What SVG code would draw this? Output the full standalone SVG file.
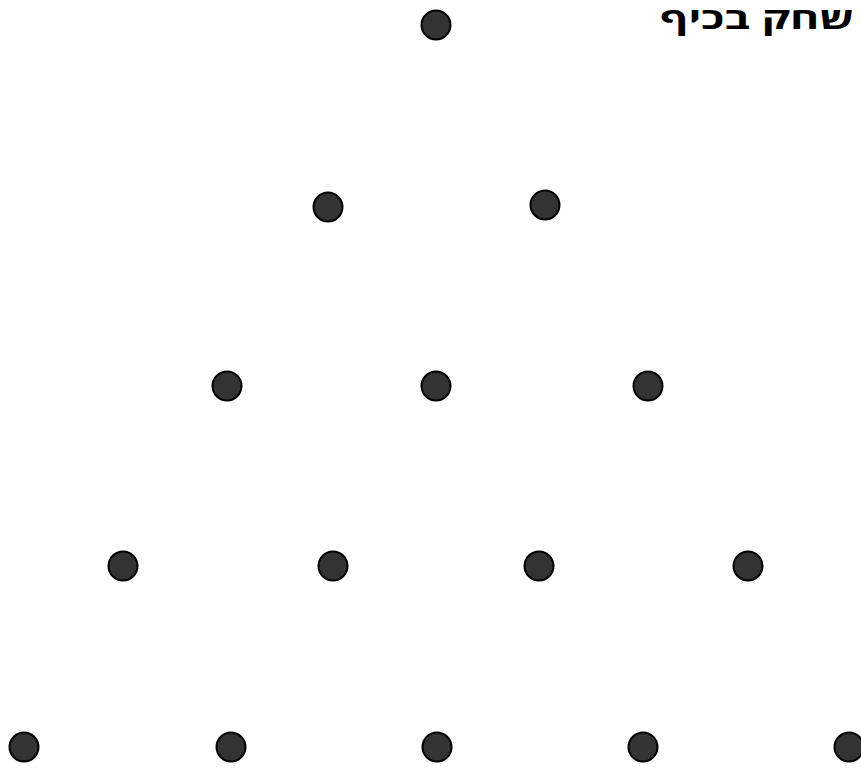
<svg xmlns="http://www.w3.org/2000/svg" width="861" height="770" viewBox="0 0 861 770">
<style>
.dot{fill:#333333;stroke:#000000;stroke-width:2}
.title{font-family:"Open Sans","Noto Sans","DejaVu Sans",sans-serif;font-weight:bold;font-size:30px;fill:#000000}
</style>
<rect width="861" height="770" fill="#ffffff"/>
<text class="title" x="660" y="29" textLength="194" lengthAdjust="spacingAndGlyphs">שחק בכיף</text>
<g id="connectors"></g>
<g id="n0"><circle class="dot" cx="436" cy="25" r="14.5"/></g>
<g id="n1"><circle class="dot" cx="328" cy="207" r="14.5"/></g>
<g id="n2"><circle class="dot" cx="545" cy="205" r="14.5"/></g>
<g id="n3"><circle class="dot" cx="227" cy="386" r="14.5"/></g>
<g id="n4"><circle class="dot" cx="436" cy="386" r="14.5"/></g>
<g id="n5"><circle class="dot" cx="648" cy="386" r="14.5"/></g>
<g id="n6"><circle class="dot" cx="123" cy="566" r="14.5"/></g>
<g id="n7"><circle class="dot" cx="333" cy="566" r="14.5"/></g>
<g id="n8"><circle class="dot" cx="539" cy="566" r="14.5"/></g>
<g id="n9"><circle class="dot" cx="748" cy="566" r="14.5"/></g>
<g id="n10"><circle class="dot" cx="24" cy="747" r="14.5"/></g>
<g id="n11"><circle class="dot" cx="231" cy="747" r="14.5"/></g>
<g id="n12"><circle class="dot" cx="437" cy="747" r="14.5"/></g>
<g id="n13"><circle class="dot" cx="643" cy="747" r="14.5"/></g>
<g id="n14"><circle class="dot" cx="849" cy="747" r="14.5"/></g>
</svg>
